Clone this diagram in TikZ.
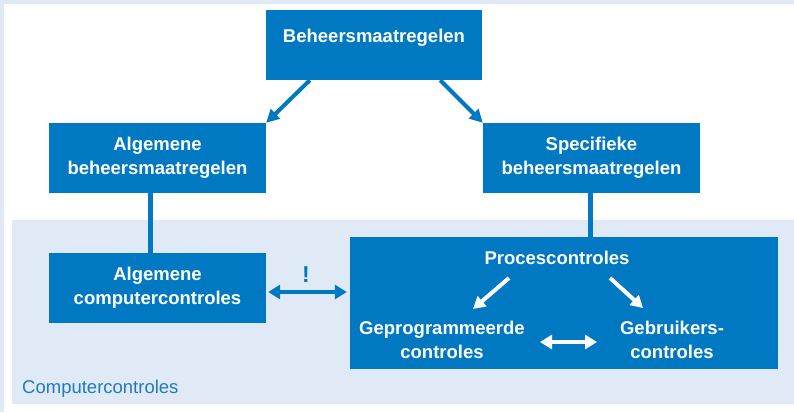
\documentclass[tikz,border=0pt]{standalone}
\usepackage{fontspec}
\setmainfont{Liberation Sans}
\usetikzlibrary{arrows.meta,calc}
\definecolor{dblue}{HTML}{0079C2}
\definecolor{lblue}{HTML}{E0EAF6}
\definecolor{tblue}{HTML}{1F7BC0}
\begin{document}
\begin{tikzpicture}[x=1pt,y=-1pt,
  bigfont/.style={font=\bfseries\fontsize{18.5}{24}\selectfont},
  box/.style={fill=dblue, inner sep=0pt, text=white, bigfont, align=center},
  wtxt/.style={text=white, bigfont, align=center, inner sep=0pt},
  barrow/.style={draw=dblue, line width=4pt, -{Triangle[length=13pt,width=13pt]}},
  bdarrow/.style={draw=dblue, line width=4pt, {Triangle[length=12pt,width=14pt]}-{Triangle[length=12pt,width=14pt]}},
  bline/.style={draw=dblue, line width=4.5pt},
  warrow/.style={draw=white, line width=4pt, -{Triangle[length=12pt,width=13pt]}},
  wdarrow/.style={draw=white, line width=4pt, {Triangle[length=12pt,width=14pt]}-{Triangle[length=12pt,width=14pt]}}]
\useasboundingbox (0,0) rectangle (794,412);
\fill[lblue] (0,0) rectangle (794,412);
\fill[white] (4,4) rectangle (794,412);
\fill[lblue] (12,220) rectangle (794,404);

% boxes
\node[box, minimum width=216pt, minimum height=70pt] (top) at (374,45) {};
\node[wtxt, anchor=base] (toptxt) at (374,43) {Beheersmaatregelen};
\node[box, minimum width=217pt, minimum height=70pt] (alg) at (157.5,158) {Algemene\\beheersmaatregelen};
\node[box, minimum width=217pt, minimum height=70pt] (spec) at (591.5,158) {Specifieke\\beheersmaatregelen};
\node[box, minimum width=217pt, minimum height=70pt] (algc) at (157.5,288) {Algemene\\computercontroles};
\node[box, minimum width=428pt, minimum height=132pt] (proc) at (564,303) {};

% inner texts
\node[wtxt, anchor=base] (ptitle) at (557,264) {Procescontroles};
\node[wtxt, anchor=base] (gep) at (442,358) {Geprogrammeerde\\controles};
\node[wtxt, anchor=base] (geb) at (672,358) {Gebruikers-\\controles};

% connectors
\draw[barrow] ($(top.south west)+(44,0)$) -- (alg.north east);
\draw[barrow] ($(top.south east)+(-42,0)$) -- (spec.north west);
\draw[bline] ([xshift=-7pt]alg.south) -- ([xshift=-7pt]algc.north);
\draw[bline] ([xshift=-1pt]spec.south) -- ([xshift=-1pt]spec.south |- proc.north);

\coordinate (dl) at ($(algc.east)+(2,4)$);
\draw[bdarrow] (dl) -- ($(dl -| proc.west)+(-3,0)$);
\node[text=dblue, font=\bfseries\fontsize{23}{24}\selectfont, anchor=base, inner sep=0pt] (excl) at (306,282) {!};

% inner arrows
\coordinate (pl1) at (509,278);
\coordinate (pl2) at (473,309);
\coordinate (pr1) at (610,278);
\coordinate (pr2) at (643,308);
\draw[warrow] (pl1) -- (pl2);
\draw[warrow] (pr1) -- (pr2);
\coordinate (ml) at (540,342);
\coordinate (mr) at (597,342);
\draw[wdarrow] (ml) -- (mr);

\node[text=tblue, font=\fontsize{18.5}{24}\selectfont, anchor=base west, inner sep=0pt] (cc) at (22,393) {Computercontroles};
\end{tikzpicture}
\end{document}
